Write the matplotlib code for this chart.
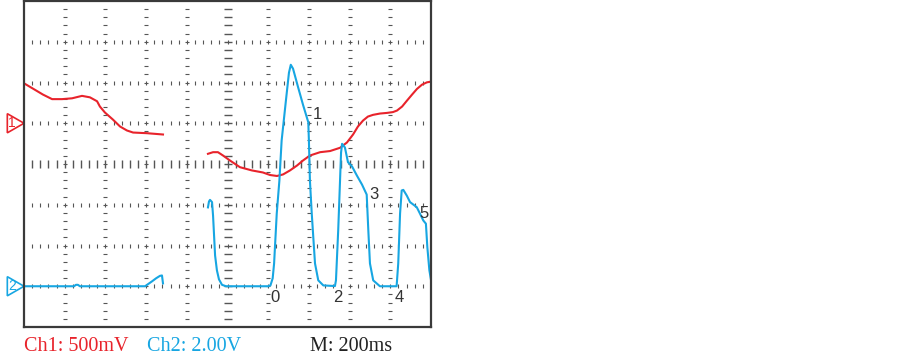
import numpy as np
import matplotlib
matplotlib.use("Agg")
import matplotlib.pyplot as plt
from matplotlib.patches import Polygon

# scope settings
ms_per_div = 200.0
ch1_mv_per_div = 500.0
ch2_v_per_div = 2.0
ch1_offset = 1.0    # ground marker position (div)
ch2_offset = -3.0

RED = "#e8232b"
BLUE = "#17a6e2"
GRID = "#555555"

# Ch1 (mV) - two recorded pieces
ch1_t_a = [-1000, -956, -907, -862, -813, -764, -715, -676, -641, -627, -602,
           -563, -528, -494, -464, -396, -317]
ch1_v_a = [490, 425, 352, 296, 296, 306, 336, 318, 270, 205, 131,
           45, -40, -89, -114, -122, -138]
ch1_t_b = [-96, -71, -47, -22, 12, 61, 120, 174, 209, 243, 273, 307, 342, 371,
           405, 455, 504, 553, 587, 617, 641, 666, 690, 715, 749, 784, 813,
           833, 858, 882, 907, 931, 956, 980, 1000]
ch1_v_b = [-375, -355, -355, -396, -457, -539, -579, -604, -635, -647, -628,
           -579, -518, -457, -396, -355, -341, -301, -236, -138, -40, 33, 82,
           103, 119, 127, 137, 156, 205, 278, 352, 421, 474, 502, 511]

# Ch2 (V)
ch2_t_a = [-1000, -754, -745, -735, -725, -405, -391, -371, -351, -332, -322, -317]
ch2_v_a = [0, 0, 0.07, 0.07, 0, 0, 0.1, 0.24, 0.39, 0.51, 0.53, 0.14]
ch2_t_b = [-96, -91, -86, -76, -71, -66, -61, -52, -42, -27, -7, 27, 199,
           211, 222, 229, 242, 255, 266, 287, 302, 311, 322, 346, 371, 397,
           400, 405, 414, 430, 446, 471, 528, 533, 544, 553, 558, 563, 577,
           592, 612, 636, 661, 684, 692, 700, 716, 749, 831, 839, 848, 856,
           864, 881, 897, 930, 946, 962, 975, 982, 992, 1003]
ch2_v_b = [3.87, 4.16, 4.24, 4.13, 3.47, 2.49, 1.51, 0.78, 0.34, 0.07, 0, 0, 0,
           0.04, 0.39, 1.12, 3.57, 5.19, 7.15, 9.11, 10.48, 10.87, 10.68, 9.80,
           8.91, 8.05, 7.15, 5.19, 3.57, 1.12, 0.29, 0.04, 0.01, 0.29, 2.74,
           5.19, 6.56, 6.99, 6.81, 6.09, 5.88, 5.43, 4.99, 4.50, 2.74, 1.12,
           0.29, 0, 0, 1.12, 3.57, 4.70, 4.73, 4.45, 4.13, 3.88, 3.56, 3.23,
           3.07, 1.92, 0.78, 0.14]

# event markers on the screen
event_labels = ["0", "1", "2", "3", "4", "5"]
event_t = [233, 441, 544, 718, 844, 966]
event_div = [-3.28, 1.21, -3.28, -0.75, -3.28, -1.21]

fig = plt.figure(figsize=(9.02, 3.55), dpi=100)
ax = fig.add_axes([24 / 902, 1 - 327 / 355, 407 / 902, 326 / 355])
ax.set_xlim(-5, 5)
ax.set_ylim(-4, 4)
ax.set_xticks([])
ax.set_yticks([])
for s in ax.spines.values():
    s.set_color("#3a3a3a")
    s.set_linewidth(1.6)

# graticule
sub = np.arange(-24, 25) * 0.2
for gy in range(-3, 4):
    big = gy == 0
    ax.plot(sub, np.full(sub.shape, gy), ls="none", marker="|",
            ms=6.0 if big else 2.8, mew=1.0 if big else 0.8, color=GRID)
suby = np.arange(-19, 20) * 0.2
for gx in range(-4, 5):
    big = gx == 0
    ax.plot(np.full(suby.shape, gx), suby, ls="none", marker="_",
            ms=6.0 if big else 3.0, mew=1.0 if big else 0.8, color=GRID)


def t2x(t):
    return np.asarray(t, float) / ms_per_div


ax.plot(t2x(ch1_t_a), ch1_offset + np.asarray(ch1_v_a) / ch1_mv_per_div, color=RED, lw=1.5)
ax.plot(t2x(ch1_t_b), ch1_offset + np.asarray(ch1_v_b) / ch1_mv_per_div, color=RED, lw=1.5)
ax.plot(t2x(ch2_t_a), ch2_offset + np.asarray(ch2_v_a) / ch2_v_per_div, color=BLUE, lw=1.5)
ax.plot(t2x(ch2_t_b), ch2_offset + np.asarray(ch2_v_b) / ch2_v_per_div, color=BLUE, lw=1.5)

for lab, t, d in zip(event_labels, event_t, event_div):
    ax.text(t / ms_per_div, d, lab, ha="center", va="center",
            fontsize=12, color="#333333", family="Liberation Sans")

# channel ground markers
for num, off, col in [("1", ch1_offset, RED), ("2", ch2_offset, BLUE)]:
    tri = Polygon([(-5.0, off), (-5.41, off + 0.235), (-5.41, off - 0.235)],
                  closed=True, fc="white", ec=col, lw=1.2, clip_on=False)
    ax.add_patch(tri)
    ax.text(-5.30, off, num, ha="center", va="center", fontsize=10,
            color=col, family="Liberation Sans", clip_on=False)

fig.text(24 / 902, 0.012, "Ch1: 500mV", color=RED, fontsize=14.5,
         family="Liberation Serif", va="baseline")
fig.text(147 / 902, 0.012, "Ch2: 2.00V", color=BLUE, fontsize=14.5,
         family="Liberation Serif", va="baseline")
fig.text(310 / 902, 0.012, "M: 200ms", color="#222222", fontsize=14.5,
         family="Liberation Serif", va="baseline")

fig.savefig("out.png", dpi=100)
